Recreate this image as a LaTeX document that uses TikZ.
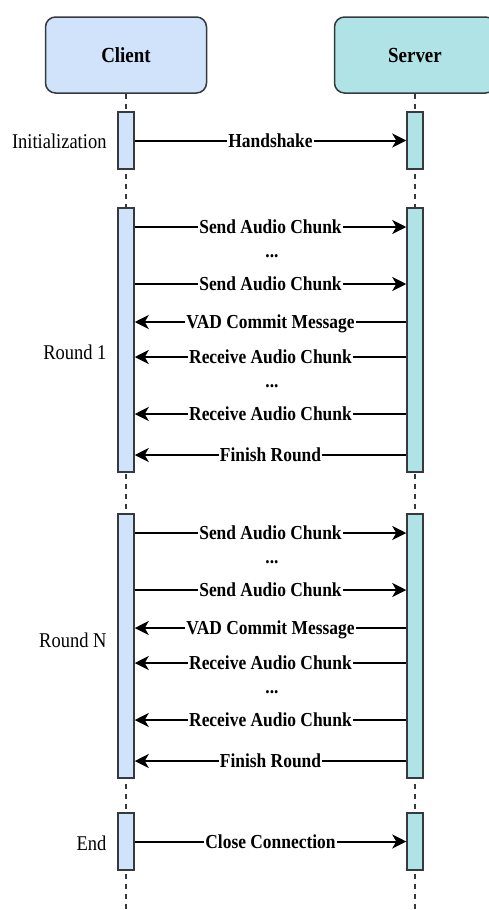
\documentclass[tikz,border=0pt]{standalone}
\usepackage{fontspec}
\setmainfont{Liberation Serif}
\newfontfamily\narrowserif[FakeStretch=0.88]{Liberation Serif}
\usetikzlibrary{arrows.meta}
\definecolor{clientblue}{HTML}{D0E3FA}
\definecolor{serverteal}{HTML}{B0E3E6}
\definecolor{edgegray}{HTML}{36393D}
\tikzset{
  head/.style={draw=edgegray, line width=1.5pt, rounded corners=10pt, minimum width=161pt, minimum height=76pt, font=\narrowserif\fontsize{21.5}{24}\selectfont\bfseries},
  bar/.style={draw=edgegray, line width=1.5pt, minimum width=16pt, inner sep=0pt},
  msg/.style={line width=2pt, -{Stealth[length=14pt,width=14pt,inset=4pt]}},
  lbl/.style={fill=white, inner sep=1pt, text height=13pt, text depth=0pt, font=\narrowserif\fontsize{19.8}{22}\selectfont\bfseries},
  phase/.style={anchor=east, text height=14pt, text depth=0pt, font=\narrowserif\fontsize{21}{24}\selectfont},
  life/.style={line width=1.5pt, dash pattern=on 5pt off 5pt, edgegray}
}
\begin{document}
\begin{tikzpicture}[x=1pt,y=-1pt]
  \clip (0,0) rectangle (489,910);
  % heads and lifelines
  \node[head, fill=clientblue] (client) at (126,55) {Client};
  \node[head, fill=serverteal] (server) at (415,55) {Server};
  \draw[life] (client.south) -- (client.south |- 0,910);
  \draw[life] (server.south) -- (server.south |- 0,910);
  % initialization
  \node[bar, fill=clientblue, minimum height=57pt] (cinit) at (126,140.5) {};
  \node[bar, fill=serverteal, minimum height=57pt] (sinit) at (415,140.5) {};
  \node[phase] at (110,141) {Initialization};
  \draw[msg] (cinit.east) -- node[lbl] {Handshake} (sinit.west);
  % rounds
  \foreach \r/\top/\ly/\name in {1/207/352/Round 1, N/513/640/Round N} {
    \node[bar, fill=clientblue, minimum height=264pt, anchor=north] (c\r) at (126,\top) {};
    \node[bar, fill=serverteal, minimum height=264pt, anchor=north] (s\r) at (415,\top) {};
    \node[phase] at (110,\ly) {\name};
    \foreach \dy in {20,77} {
      \coordinate (m) at (0,\top+\dy);
      \draw[msg] (c\r.east |- m) -- node[lbl] {Send Audio Chunk} (s\r.west |- m);
    }
    \foreach \dy/\txt in {115/VAD Commit Message, 150/Receive Audio Chunk, 207/Receive Audio Chunk, 248/Finish Round} {
      \coordinate (m) at (0,\top+\dy);
      \draw[msg] (s\r.west |- m) -- node[lbl] {\txt} (c\r.east |- m);
    }
    \foreach \dy in {48,178}
      \node[lbl, fill=none, anchor=base] at (272,\top+\dy+2) {...};
  }
  % end
  \node[bar, fill=clientblue, minimum height=57pt] (cend) at (126,841.5) {};
  \node[bar, fill=serverteal, minimum height=57pt] (send) at (415,841.5) {};
  \node[phase] at (110,843) {End};
  \draw[msg] (cend.east) -- node[lbl] {Close Connection} (send.west);
\end{tikzpicture}
\end{document}
